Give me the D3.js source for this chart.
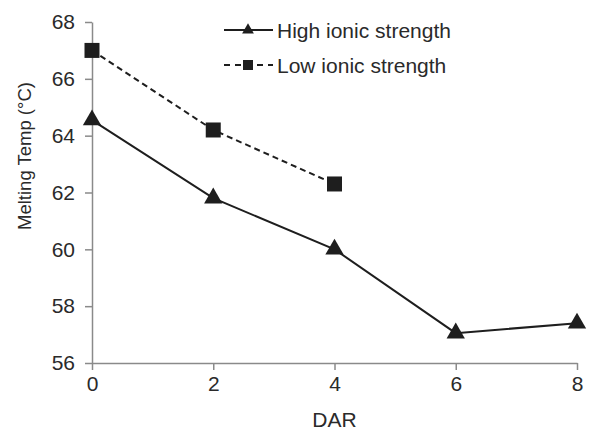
<!DOCTYPE html>
<html><head><meta charset="utf-8">
<script src="https://cdn.jsdelivr.net/npm/d3@7"></script>
<style>body{margin:0;background:#fff}svg{display:block}text{font-family:"Liberation Sans",Arial,sans-serif}</style>
</head><body><svg id="c" width="591" height="431"></svg>
<script>
const darHigh = [0, 2, 4, 6, 8];
const tmHigh = [64.55, 61.8, 60.0, 57.05, 57.4];
const darLow = [0, 2, 4];
const tmLow = [67.0, 64.2, 62.3];
const xTicks = [0, 2, 4, 6, 8];
const yTicks = [56, 58, 60, 62, 64, 66, 68];
const seriesNames = ["High ionic strength", "Low ionic strength"];

const svg = d3.select("#c");
const x = d3.scaleLinear().domain([0, 8]).range([92, 577]);
const y = d3.scaleLinear().domain([56, 68]).range([363, 22]);
const axisCol = "#8a8a8a", txtCol = "#2a2a2a", lineCol = "#1e1e1e";
const ff = '"Liberation Sans",Arial,sans-serif';

const gx = svg.append("g").attr("transform", "translate(0,363)")
  .call(d3.axisBottom(x).tickValues(xTicks).tickSize(7).tickSizeOuter(0).tickPadding(6));
const gy = svg.append("g").attr("transform", "translate(92,0)")
  .call(d3.axisLeft(y).tickValues(yTicks).tickSize(7).tickSizeOuter(0).tickPadding(10));
[gx, gy].forEach(g => {
  g.select(".domain").attr("stroke", axisCol).attr("stroke-width", 1.5);
  g.selectAll(".tick line").attr("stroke", axisCol).attr("stroke-width", 1.5);
  g.selectAll(".tick text").attr("fill", txtCol).style("font-size", "21px").style("font-family", ff);
});

svg.append("text").attr("x", x(4)).attr("y", 427).attr("text-anchor", "middle")
  .attr("fill", txtCol).style("font-size", "21px").text("DAR");
svg.append("text").attr("transform", "translate(31,156) rotate(-90)").attr("text-anchor", "middle")
  .attr("fill", txtCol).style("font-size", "18.5px").text("Melting Temp (°C)");

const line = d3.line().x(d => x(d[0])).y(d => y(d[1]));
const high = darHigh.map((d, i) => [d, tmHigh[i]]);
const low = darLow.map((d, i) => [d, tmLow[i]]);

svg.append("path").datum(low).attr("d", line).attr("fill", "none")
  .attr("stroke", lineCol).attr("stroke-width", 2).attr("stroke-dasharray", "6,4");
svg.append("path").datum(high).attr("d", line).attr("fill", "none")
  .attr("stroke", lineCol).attr("stroke-width", 2);

const tri = d3.symbol().type(d3.symbolTriangle);
svg.selectAll(".tri").data(high).join("path")
  .attr("transform", d => `translate(${x(d[0])},${y(d[1])})`)
  .attr("d", tri.size(145)).attr("fill", lineCol);
svg.selectAll(".sq").data(low).join("rect")
  .attr("x", d => x(d[0]) - 7.5).attr("y", d => y(d[1]) - 7.5)
  .attr("width", 15).attr("height", 15).attr("fill", lineCol);

// legend
const lg = svg.append("g");
lg.append("line").attr("x1", 224).attr("x2", 273).attr("y1", 30).attr("y2", 30)
  .attr("stroke", lineCol).attr("stroke-width", 2);
lg.append("path").attr("transform", "translate(248,30)").attr("d", d3.symbol().type(d3.symbolTriangle).size(60)()).attr("fill", lineCol);
lg.append("text").attr("x", 277).attr("y", 38).attr("fill", txtCol).style("font-size", "21px").text(seriesNames[0]);
lg.append("line").attr("x1", 224).attr("x2", 273).attr("y1", 65).attr("y2", 65)
  .attr("stroke", lineCol).attr("stroke-width", 2).attr("stroke-dasharray", "6,5");
lg.append("rect").attr("x", 243).attr("y", 60).attr("width", 10).attr("height", 10).attr("fill", lineCol);
lg.append("text").attr("x", 277).attr("y", 73).attr("fill", txtCol).style("font-size", "21px").text(seriesNames[1]);
</script></body></html>
